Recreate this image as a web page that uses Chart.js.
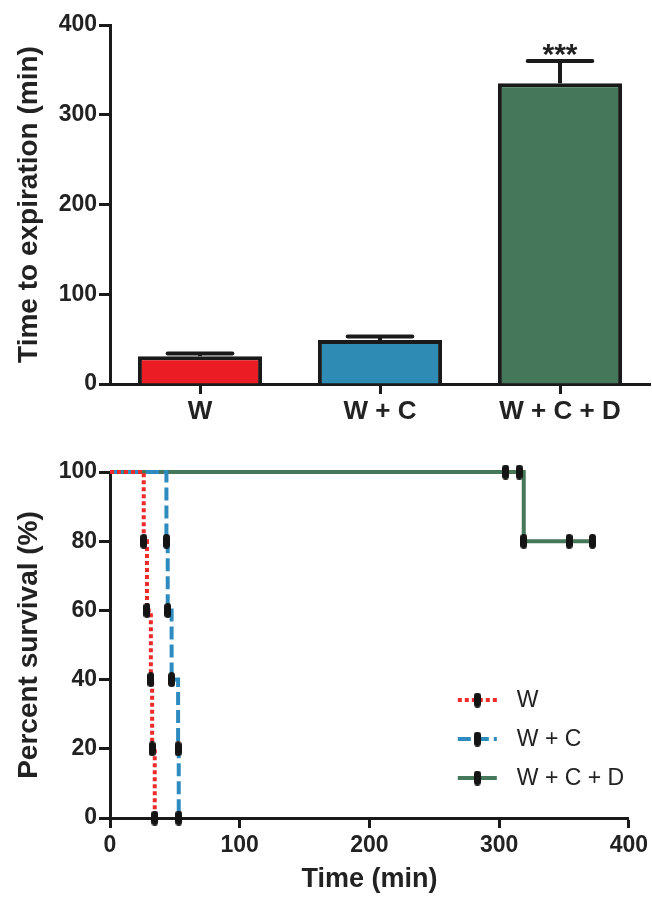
<!DOCTYPE html>
<html>
<head>
<meta charset="utf-8">
<script src="https://cdn.jsdelivr.net/npm/chart.js@4.4.1/dist/chart.umd.min.js"></script>
<style>
  html, body { margin: 0; padding: 0; background: #fff; }
  .box { position: relative; width: 652px; }
  #top { height: 432px; }
  #bottom { height: 465px; }
</style>
</head>
<body>
<div class="box" id="top"><canvas id="barChart"></canvas></div>
<div class="box" id="bottom"><canvas id="survChart"></canvas></div>
<script>
// bar panel
const groups = ['W', 'W + C', 'W + C + D'];
const meanTime = [31, 49, 335];
const semTime = [3, 4, 25];
const sigLabel = ['', '', '***'];

// survival panel (time in min, percent surviving)
const survW_t = [0, 26, 28.5, 31.5, 32.5, 34.5];
const survW_p = [100, 80, 60, 40, 20, 0];
const survWC_t = [0, 43.5, 44.5, 47.5, 52.5, 53];
const survWC_p = [100, 80, 60, 40, 20, 0];
const survWCD_t = [0, 305, 315.5, 319, 354, 372];
const survWCD_p = [100, 100, 100, 80, 80, 80];

const FONT = '"Liberation Sans", Arial, sans-serif';
const INK = '#1a1a1a';

const barColors = ['#EC1C24', '#2E8BB4', '#45785A'];

// black capsule used as the point marker
function makeTick() {
  const c = document.createElement('canvas');
  c.width = 7; c.height = 15;
  const g = c.getContext('2d');
  const r = 3.5;
  g.fillStyle = '#141414';
  g.beginPath();
  g.arc(3.5, r, r, Math.PI, 0);
  g.lineTo(7, 15 - r);
  g.arc(3.5, 15 - r, r, 0, Math.PI);
  g.closePath();
  g.fill();
  return c;
}
const tickImg = makeTick();

const errorBars = {
  id: 'errorBars',
  afterDatasetsDraw(chart) {
    const { ctx, scales: { y } } = chart;
    const meta = chart.getDatasetMeta(0);
    ctx.save();
    ctx.strokeStyle = INK;
    ctx.lineWidth = 4;
    meta.data.forEach((bar, i) => {
      const yTop = y.getPixelForValue(meanTime[i] + semTime[i]);
      const yBase = y.getPixelForValue(meanTime[i]);
      const half = bar.width * 0.26;
      ctx.lineCap = 'butt';
      ctx.beginPath();
      ctx.moveTo(bar.x, yBase);
      ctx.lineTo(bar.x, yTop);
      ctx.stroke();
      ctx.lineCap = 'round';
      ctx.beginPath();
      ctx.moveTo(bar.x - half, yTop);
      ctx.lineTo(bar.x + half, yTop);
      ctx.stroke();
      if (sigLabel[i]) {
        ctx.fillStyle = '#222';
        ctx.font = 'bold 30px ' + FONT;
        ctx.textAlign = 'center';
        ctx.textBaseline = 'alphabetic';
        ctx.fillText(sigLabel[i], bar.x, yTop + 3);
      }
    });
    ctx.restore();
  }
};

new Chart(document.getElementById('barChart'), {
  type: 'bar',
  data: {
    labels: groups,
    datasets: [{
      data: meanTime,
      backgroundColor: barColors,
      borderColor: INK,
      borderWidth: 4,
      borderSkipped: 'bottom',
      barPercentage: 0.69,
      categoryPercentage: 1
    }]
  },
  options: {
    responsive: true,
    maintainAspectRatio: false,
    animation: false,
    events: [],
    layout: { padding: { top: 25, right: 2, left: 0, bottom: 0 } },
    plugins: { legend: { display: false }, tooltip: { enabled: false } },
    scales: {
      x: {
        grid: { offset: false, drawOnChartArea: false, tickLength: 10, tickWidth: 3, tickColor: INK },
        border: { color: INK, width: 3 },
        ticks: { color: '#222', padding: 2, font: { family: FONT, size: 26, weight: 'bold' } },
        afterFit(s) { s.height = 48; }
      },
      y: {
        min: 0,
        max: 400,
        grid: { drawOnChartArea: false, tickLength: 11, tickWidth: 3, tickColor: INK },
        border: { color: INK, width: 3 },
        ticks: { stepSize: 100, color: '#222', padding: 2, font: { family: FONT, size: 23, weight: 'bold' } },
        title: {
          display: true,
          text: 'Time to expiration (min)',
          color: '#222',
          padding: { top: 12, bottom: 0 },
          font: { family: FONT, size: 28, weight: 'bold' }
        },
        afterFit(s) { s.width = 110; }
      }
    }
  },
  plugins: [errorBars]
});

function pts(ts, ps) {
  return ts.map((t, i) => ({ x: t, y: ps[i] }));
}

const survLegend = {
  id: 'survLegend',
  afterDraw(chart) {
    const { ctx, chartArea } = chart;
    const x0 = chartArea.right - 171;
    chart.data.datasets.forEach((ds, i) => {
      const yy = 268 + i * 39;
      ctx.save();
      ctx.strokeStyle = ds.borderColor;
      ctx.lineWidth = ds.borderWidth;
      ctx.setLineDash(ds.borderDash || []);
      ctx.beginPath();
      ctx.moveTo(x0, yy);
      ctx.lineTo(x0 + 39, yy);
      ctx.stroke();
      ctx.drawImage(tickImg, x0 + 19.5 - tickImg.width / 2, yy - tickImg.height / 2);
      ctx.fillStyle = '#222';
      ctx.font = '23px ' + FONT;
      ctx.textBaseline = 'middle';
      ctx.fillText(ds.label, x0 + 59, yy + 1);
      ctx.restore();
    });
  }
};

const markRadius = (c) => (c.dataIndex === 0 ? 0 : 5);

new Chart(document.getElementById('survChart'), {
  type: 'line',
  data: {
    datasets: [
      {
        label: 'W',
        data: pts(survW_t, survW_p),
        borderColor: '#EE2A2A',
        borderWidth: 4,
        borderDash: [4, 3],
        stepped: true,
        pointStyle: tickImg,
        pointRadius: markRadius,
        clip: false
      },
      {
        label: 'W + C',
        data: pts(survWC_t, survWC_p),
        borderColor: '#2E8BC0',
        borderWidth: 4,
        borderDash: [13, 5],
        stepped: true,
        pointStyle: tickImg,
        pointRadius: markRadius,
        clip: false
      },
      {
        label: 'W + C + D',
        data: pts(survWCD_t, survWCD_p),
        borderColor: '#45785A',
        borderWidth: 4,
        stepped: true,
        pointStyle: tickImg,
        pointRadius: markRadius,
        clip: false
      }
    ]
  },
  options: {
    responsive: true,
    maintainAspectRatio: false,
    animation: false,
    events: [],
    layout: { padding: { top: 40, right: 23, left: 0, bottom: 0 } },
    plugins: { legend: { display: false }, tooltip: { enabled: false } },
    scales: {
      x: {
        type: 'linear',
        min: 0,
        max: 400,
        grid: { drawOnChartArea: false, tickLength: 10, tickWidth: 3, tickColor: INK },
        border: { color: INK, width: 3 },
        ticks: { stepSize: 100, color: '#222', padding: 4, maxRotation: 0, font: { family: FONT, size: 23, weight: 'bold' } },
        title: {
          display: true,
          text: 'Time (min)',
          color: '#222',
          padding: { top: 0, bottom: 1 },
          font: { family: FONT, size: 27, weight: 'bold' }
        },
        afterFit(s) { s.height = 79; }
      },
      y: {
        min: 0,
        max: 100,
        grid: { drawOnChartArea: false, tickLength: 11, tickWidth: 3, tickColor: INK },
        border: { color: INK, width: 3 },
        ticks: { stepSize: 20, color: '#222', padding: 2, font: { family: FONT, size: 23, weight: 'bold' } },
        title: {
          display: true,
          text: 'Percent survival (%)',
          color: '#222',
          padding: { top: 12, bottom: 0 },
          font: { family: FONT, size: 28, weight: 'bold' }
        },
        afterFit(s) { s.width = 110; }
      }
    }
  },
  plugins: [survLegend]
});
</script>
</body>
</html>
